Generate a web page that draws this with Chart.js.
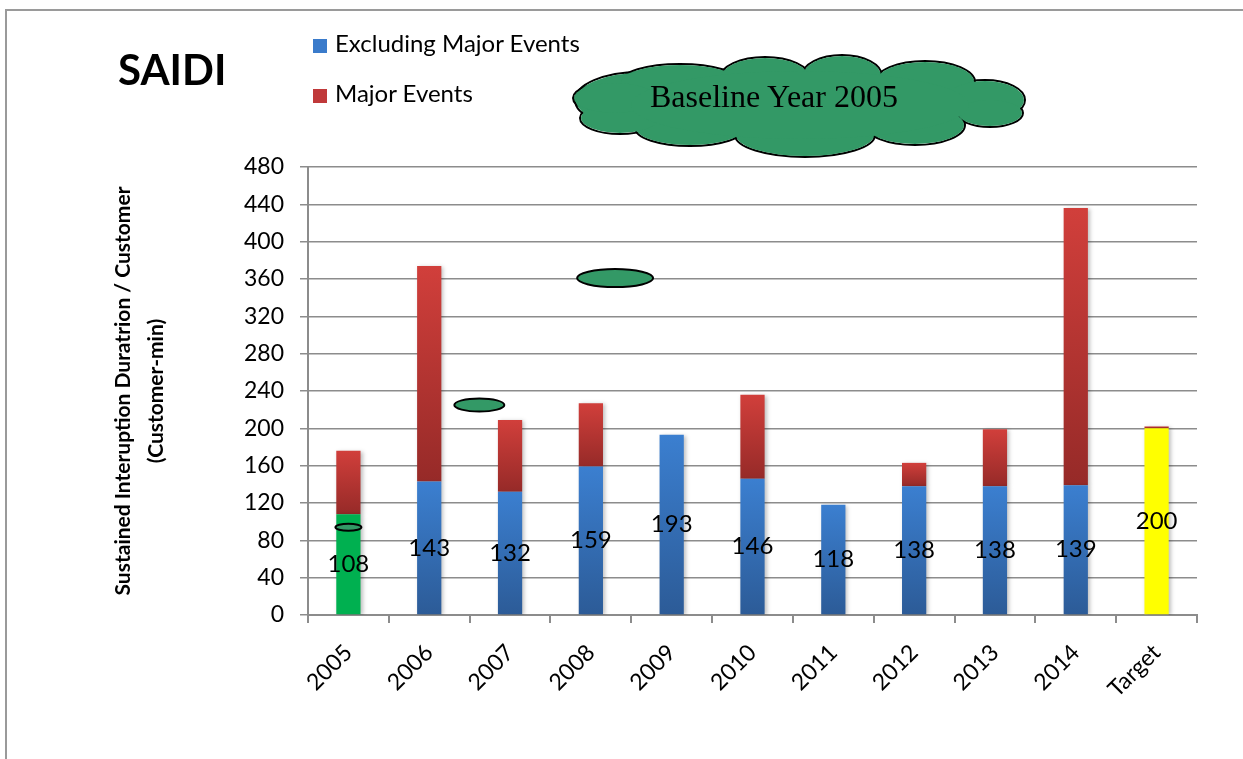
<!DOCTYPE html>
<html>
<head>
<meta charset="utf-8">
<script src="https://cdn.jsdelivr.net/npm/chart.js@4"></script>
<style>
  body { margin: 0; background: #fff; }
  #wrap { position: relative; width: 1243px; height: 759px; overflow: hidden; }
  #frame { position: absolute; left: 5px; top: 9px; width: 1400px; height: 900px;
           border-left: 2px solid #9a9a9a; border-top: 2px solid #9a9a9a; }
  canvas { position: absolute; left: 0; top: 0; }
  #title { position: absolute; left: 118px; top: 44px; font: bold 42px Lato, sans-serif; color: #000; }
  .leg { position: absolute; left: 313px; font: 24px Lato, sans-serif; color: #000; white-space: nowrap; }
  .leg i { display: inline-block; width: 14px; height: 14px; margin-right: 8px; vertical-align: -1px; }
  #cloudText { position: absolute; left: 650px; top: 78px; font: 32px "Liberation Serif", serif; color: #000; }
</style>
</head>
<body>
<div id="wrap">
  <div id="frame"></div>
  <canvas id="saidi" width="1243" height="759"></canvas>
  <div id="title">SAIDI</div>
  <div id="legend"></div>
  <div id="cloudText">Baseline Year 2005</div>
</div>
<script>
const categories = ["2005", "2006", "2007", "2008", "2009", "2010", "2011", "2012", "2013", "2014", "Target"];
const excludingMajor = [108, 143, 132, 159, 193, 146, 118, 138, 138, 139, 200];
const majorEvents = [68, 231, 77, 68, 0, 90, 0, 25, 61, 297, 2];
const yTicks = { min: 0, max: 480, step: 40 };

// per-bar vertical gradient, computed from the y scale
function barGradient(c, base, top, bottom) {
  const chart = c.chart;
  const y = chart.scales.y;
  if (!chart.chartArea || !y) return top;
  const i = c.dataIndex;
  const start = base ? base[i] : 0;
  const end = start + c.dataset.data[i];
  const g = chart.ctx.createLinearGradient(0, y.getPixelForValue(end), 0, y.getPixelForValue(start));
  g.addColorStop(0, top);
  g.addColorStop(1, bottom);
  return g;
}

const blueFill = c => {
  if (c.dataIndex === 0) return "#00b050";
  if (c.dataIndex === categories.length - 1) return "#ffff00";
  return barGradient(c, null, "#3b7fd0", "#2c5b97");
};
const redFill = c => barGradient(c, excludingMajor, "#d13f3b", "#962a28");

// soft shadow behind the bars
const barShadow = {
  id: "barShadow",
  beforeDatasetsDraw(chart) {
    const ctx = chart.ctx;
    ctx.save();
    ctx.shadowColor = "rgba(0,0,0,0.25)";
    ctx.shadowBlur = 4;
    ctx.shadowOffsetX = 2;
    ctx.shadowOffsetY = 1;
  },
  afterDatasetsDraw(chart) {
    chart.ctx.restore();
  }
};

// value labels centred on the lower segment
const valueLabels = {
  id: "valueLabels",
  afterDatasetsDraw(chart) {
    const ctx = chart.ctx;
    const meta = chart.getDatasetMeta(0);
    ctx.save();
    ctx.font = "24px Lato, sans-serif";
    ctx.fillStyle = "#000";
    ctx.textAlign = "center";
    ctx.textBaseline = "middle";
    meta.data.forEach((bar, i) => {
      ctx.fillText(excludingMajor[i], bar.x, (bar.y + bar.base) / 2);
    });
    ctx.restore();
  }
};

// little green ovals sitting on the plot
const ovals = [
  { at: 0, v: 94, w: 26, h: 7 },
  { at: 1.62, v: 225, w: 50, h: 13 },
  { at: 3.3, v: 361, w: 76, h: 18 }
];
// cloud lobes (page pixels)
const lobes = [
  [640, 100, 65, 28], [680, 82, 60, 18], [765, 78, 45, 21], [842, 76, 40, 21],
  [925, 82, 50, 21], [985, 100, 40, 20], [990, 113, 33, 14], [915, 125, 50, 20],
  [805, 135, 70, 22], [690, 128, 55, 18], [620, 118, 40, 16], [615, 98, 42, 16],
  [800, 105, 170, 35]
];

const extras = {
  id: "extras",
  afterDraw(chart) {
    const ctx = chart.ctx;
    const x = chart.scales.x, y = chart.scales.y;
    ctx.save();
    ctx.lineWidth = 2;
    ctx.strokeStyle = "#000";
    ovals.forEach(o => {
      ctx.beginPath();
      ctx.ellipse(x.getPixelForValue(o.at), y.getPixelForValue(o.v), o.w / 2, o.h / 2, 0, 0, Math.PI * 2);
      ctx.fillStyle = "#339966";
      ctx.fill();
      ctx.stroke();
    });
    // cloud: stroke all lobes, then fill over them to keep the outer edge
    lobes.forEach(l => {
      ctx.beginPath();
      ctx.ellipse(l[0], l[1], l[2], l[3], 0, 0, Math.PI * 2);
      ctx.stroke();
    });
    ctx.fillStyle = "#339966";
    lobes.forEach(l => {
      ctx.beginPath();
      ctx.ellipse(l[0], l[1], l[2] - 1, l[3] - 1, 0, 0, Math.PI * 2);
      ctx.fill();
    });
    ctx.restore();
  }
};

const chart = new Chart(document.getElementById("saidi"), {
  type: "bar",
  data: {
    labels: categories,
    datasets: [
      { label: "Excluding Major Events", data: excludingMajor, backgroundColor: blueFill,
        categoryPercentage: 1, barPercentage: 0.3 },
      { label: "Major Events", data: majorEvents, backgroundColor: redFill,
        categoryPercentage: 1, barPercentage: 0.3 }
    ]
  },
  options: {
    responsive: false,
    animation: false,
    layout: { padding: { top: 167, right: 46, bottom: 0, left: 103 } },
    plugins: { legend: { display: false }, tooltip: { enabled: false } },
    scales: {
      x: {
        stacked: true,
        grid: { drawOnChartArea: false, offset: true, tickLength: 8, color: "#8c8c8c", lineWidth: 2 },
        border: { color: "#8c8c8c", width: 2 },
        ticks: { minRotation: 45, maxRotation: 45, padding: 16, color: "#000",
                 font: { family: "Lato", size: 23 } },
        afterFit: s => { s.height = 144; }
      },
      y: {
        stacked: true,
        min: yTicks.min,
        max: yTicks.max,
        grid: { color: "#8c8c8c", lineWidth: 1.5, tickLength: 8 },
        border: { color: "#8c8c8c", width: 2 },
        ticks: { stepSize: yTicks.step, padding: 16, color: "#000",
                 font: { family: "Lato", size: 23 } },
        title: {
          display: true,
          text: ["Sustained Interuption Duratrion / Customer", "(Customer-min)"],
          color: "#000",
          font: { family: "Lato", size: 21, weight: "bold", lineHeight: 1.55 }
        },
        afterFit: s => { s.width = 205; }
      }
    }
  },
  plugins: [barShadow, valueLabels, extras]
});

// html legend from the datasets
const legendColors = ["#3a7bcb", "#c0393a"];
document.getElementById("legend").innerHTML = chart.data.datasets.map((d, i) =>
  `<div class="leg" style="top:${28 + i * 50}px"><i style="background:${legendColors[i]}"></i>${d.label}</div>`
).join("");
</script>
</body>
</html>
